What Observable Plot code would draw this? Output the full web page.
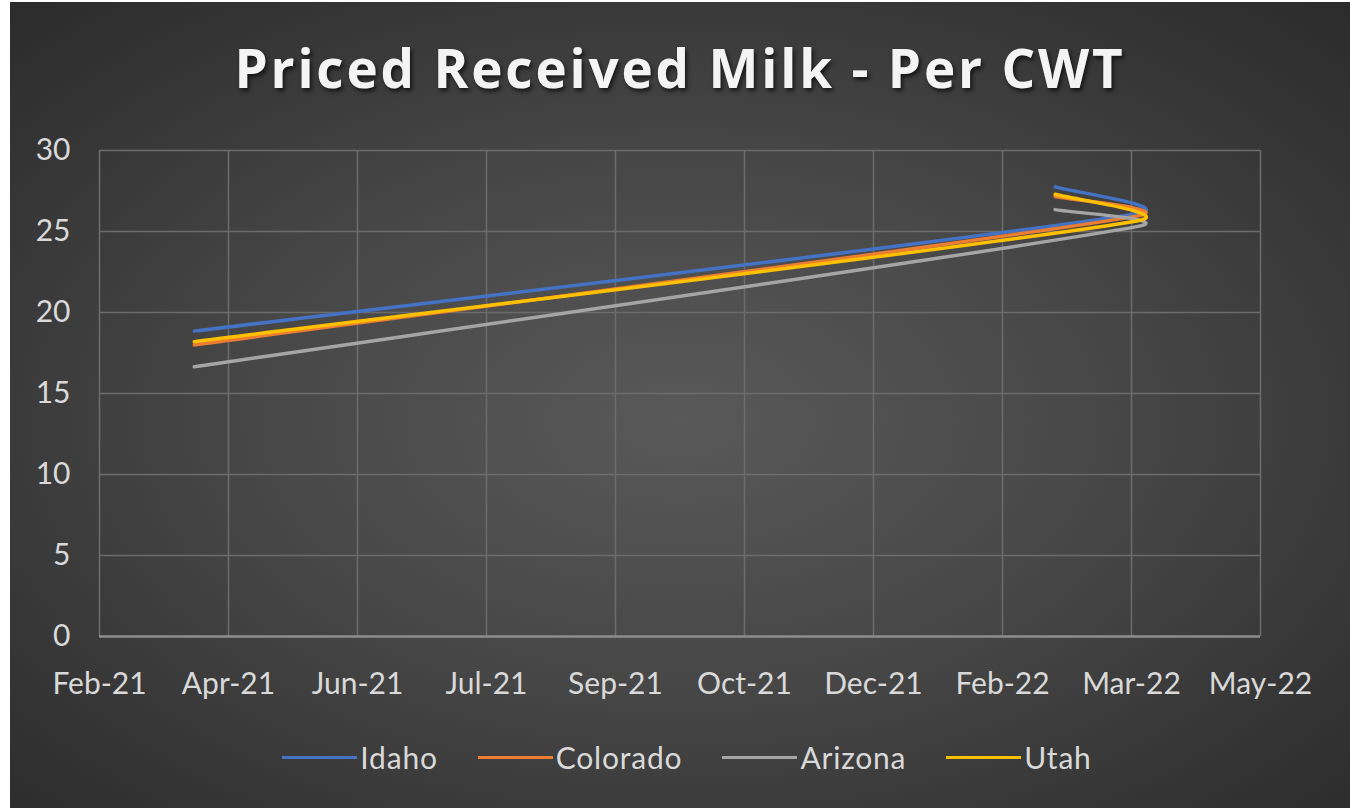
<!DOCTYPE html>
<html>
<head>
<meta charset="utf-8">
<script src="https://cdn.jsdelivr.net/npm/d3@7"></script>
<script src="https://cdn.jsdelivr.net/npm/@observablehq/plot@0.6"></script>
<style>
  html, body { margin: 0; padding: 0; background: #ffffff; }
  #frame {
    position: absolute; left: 10px; top: 2px; width: 1340px; height: 806px; overflow: hidden;
    background: radial-gradient(ellipse 75% 75% at 50% 52%, #595959 0%, #464646 45%, #333333 80%, #2a2a2a 100%);
  }
  #title {
    position: absolute; left: 0; top: 36px; width: 100%; text-align: center;
    font-family: "Open Sans", sans-serif; font-weight: 700; font-size: 53px; line-height: 60px;
    color: #f4f4f4; letter-spacing: 2.8px; text-shadow: 2px 3px 4px rgba(0,0,0,0.65);
  }
  #chart { position: absolute; left: 0; top: 128px; }
  #legend {
    position: absolute; left: 7px; top: 733px; width: 100%; height: 44px;
    display: flex; justify-content: center; align-items: center; gap: 40px;
    font-family: Lato, sans-serif; font-size: 30px; color: #d9d9d9; letter-spacing: 0.8px;
  }
  .item { display: flex; align-items: center; }
  .sw { width: 75px; height: 3px; margin-right: 3px; }
</style>
</head>
<body>
<div id="frame">
  <div id="title">Priced Received Milk - Per CWT</div>
  <div id="chart"></div>
  <div id="legend"></div>
</div>
<script>
// ---- data ----
const states = ["Idaho", "Colorado", "Arizona", "Utah"];
const colors = ["#4472C4", "#ED7D31", "#A5A5A5", "#FFC000"];
const dates = ["2021-04-03", "2022-03-27", "2022-02-24"];
const idaho = [18.85, 26.1, 27.75];
const colorado = [18.0, 25.95, 27.15];
const arizona = [16.65, 25.3, 26.35];
const utah = [18.2, 25.65, 27.3];
const tickDates = ["2021-02-26", "2021-04-16", "2021-06-04", "2021-07-23", "2021-09-10",
                   "2021-10-29", "2021-12-17", "2022-02-04", "2022-03-25", "2022-05-13"];
const tickLabels = ["Feb-21", "Apr-21", "Jun-21", "Jul-21", "Sep-21",
                    "Oct-21", "Dec-21", "Feb-22", "Mar-22", "May-22"];
const yTicks = [0, 5, 10, 15, 20, 25, 30];

// ---- Excel-style smoothed line (Bezier with 1/6 tangents, arms capped at half a segment) ----
function excelSmooth(context) {
  let pts = [];
  const dist = (a, b) => Math.hypot(b[0] - a[0], b[1] - a[1]);
  return {
    areaStart() {}, areaEnd() {},
    lineStart() { pts = []; },
    point(x, y) { pts.push([+x, +y]); },
    lineEnd() {
      const n = pts.length;
      if (!n) return;
      context.moveTo(pts[0][0], pts[0][1]);
      if (n === 1) return;
      const arms = pts.map((p, i) => {
        const prev = pts[Math.max(0, i - 1)], next = pts[Math.min(n - 1, i + 1)];
        const tx = (next[0] - prev[0]) / 6, ty = (next[1] - prev[1]) / 6;
        const len = Math.hypot(tx, ty) || 1;
        const inLim = i > 0 ? dist(pts[i - 1], p) / 2 : Infinity;
        const outLim = i < n - 1 ? dist(p, pts[i + 1]) / 2 : Infinity;
        const fi = Math.min(1, inLim / len), fo = Math.min(1, outLim / len);
        return { inx: tx * fi, iny: ty * fi, outx: tx * fo, outy: ty * fo };
      });
      for (let i = 0; i < n - 1; i++) {
        const a = pts[i], b = pts[i + 1];
        context.bezierCurveTo(a[0] + arms[i].outx, a[1] + arms[i].outy,
                              b[0] - arms[i + 1].inx, b[1] - arms[i + 1].iny, b[0], b[1]);
      }
    }
  };
}

// ---- build ----
const series = [idaho, colorado, arizona, utah];
const rows = [];
states.forEach((s, i) => {
  series[i].forEach((v, j) => rows.push({ state: s, date: new Date(dates[j] + "T00:00:00Z"), value: v }));
});
const xTicks = tickDates.map(d => new Date(d + "T00:00:00Z"));

const chart = Plot.plot({
  width: 1340,
  height: 576,
  marginLeft: 89,
  marginRight: 90,
  marginTop: 20,
  marginBottom: 70,
  style: { background: "transparent", color: "#d9d9d9", fontFamily: "Lato, sans-serif", fontSize: "30px" },
  x: { type: "utc", domain: [xTicks[0], xTicks[xTicks.length - 1]] },
  y: { domain: [0, 30] },
  color: { domain: states, range: colors },
  marks: [
    Plot.gridX(xTicks, { stroke: "#6c6c6c", strokeOpacity: 1, strokeWidth: 1.5 }),
    Plot.gridY(yTicks.filter(d => d > 0), { stroke: "#6c6c6c", strokeOpacity: 1, strokeWidth: 1.5 }),
    Plot.ruleY([0], { stroke: "#8e8e8e", strokeWidth: 2.5 }),
    Plot.axisX(xTicks, {
      tickSize: 0, tickPadding: 36, label: null, fill: "#d9d9d9",
      tickFormat: d => tickLabels[xTicks.findIndex(t => +t === +d)]
    }),
    Plot.axisY(yTicks, { tickSize: 0, tickPadding: 29, label: null, fill: "#d9d9d9" }),
    Plot.line(rows, {
      x: "date", y: "value", z: "state", stroke: "state",
      curve: excelSmooth, strokeWidth: 3.5, strokeLinecap: "round"
    })
  ]
});
document.getElementById("chart").appendChild(chart);

const legend = document.getElementById("legend");
states.forEach((s, i) => {
  const it = document.createElement("div");
  it.className = "item";
  const sw = document.createElement("div");
  sw.className = "sw";
  sw.style.background = colors[i];
  const tx = document.createElement("span");
  tx.textContent = s;
  it.appendChild(sw);
  it.appendChild(tx);
  legend.appendChild(it);
});
</script>
</body>
</html>
